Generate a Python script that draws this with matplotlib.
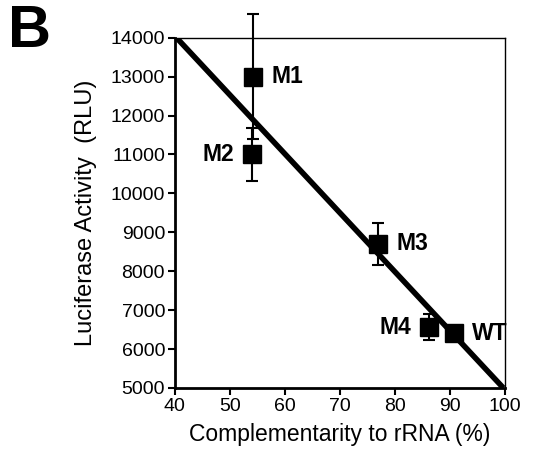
import matplotlib.pyplot as plt

plt.rcParams['font.family'] = ['Liberation Sans', 'DejaVu Sans']

# data
names = ["M1", "M2", "M3", "M4", "WT"]
complementarity = [54.2, 54.0, 77.0, 86.2, 90.8]
activity = [13000, 11000, 8700, 6560, 6400]
errors = [1600, 670, 540, 330, 60]
fit_x = [40.3, 99.7]
fit_y = [14000, 5000]

label_dx = [3.3, -3.3, 3.3, -3.3, 3.2]

fig = plt.figure(figsize=(5.43, 4.49), dpi=100)
ax = fig.add_axes([0.322, 0.136, 0.608, 0.780])

ax.plot(fit_x, fit_y, color="black", lw=4, solid_capstyle="butt", zorder=2)
ax.errorbar(complementarity, activity, yerr=errors, fmt="s", color="black",
            ms=12.5, ecolor="black", elinewidth=1.5, capsize=4, capthick=1.5,
            zorder=3, clip_on=False)

for n, x, y, dx in zip(names, complementarity, activity, label_dx):
    ax.text(x + dx, y, n, fontsize=16.5, fontweight="bold",
            ha="left" if dx > 0 else "right", va="center")

ax.set_xlim(40, 100)
ax.set_ylim(5000, 14000)
ax.set_xticks(range(40, 101, 10))
ax.set_yticks(range(5000, 14001, 1000))
ax.tick_params(axis="both", labelsize=14, direction="out", length=5, width=1.5, pad=2)
ax.tick_params(top=False, right=False)
for s in ["left", "bottom"]:
    ax.spines[s].set_linewidth(2)
for s in ["top", "right"]:
    ax.spines[s].set_linewidth(1)

ax.set_xlabel("Complementarity to rRNA (%)", fontsize=16.5, labelpad=6)
ax.set_ylabel("Luciferase Activity  (RLU)", fontsize=17, labelpad=10)

fig.text(0.015, 0.99, "B", fontsize=43, fontweight="bold", va="top", ha="left")

fig.savefig("out.png", dpi=100)
